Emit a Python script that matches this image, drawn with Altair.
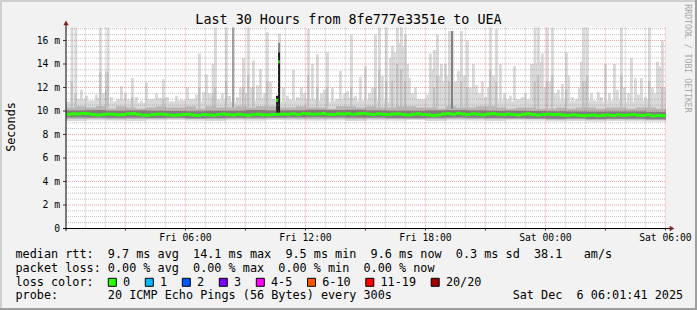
import altair as alt
import pandas as pd

MONO = "DejaVu Sans Mono"

# ---------------- data ----------------
title_text = "Last 30 Hours from 8fe777e3351e to UEA"
y_title = "Seconds"
watermark = "RRDTOOL / TOBI OETIKER"

start_hour = 101 / 3600.0          # Fri 00:01:41
span_hours = 30.0

x_label_hours = [6, 12, 18, 24, 30]
x_label_text = ["Fri 06:00", "Fri 12:00", "Fri 18:00", "Sat 00:00", "Sat 06:00"]
y_label_values = [0, 2, 4, 6, 8, 10, 12, 14, 16]
y_label_text = ["0\u00a0", "2 m", "4 m", "6 m", "8 m", "10 m", "12 m", "14 m", "16 m"]
x_minor_hours = list(range(1, 31))
x_major_hours = [3, 6, 9, 12, 15, 18, 21, 24, 27, 30]
y_minor_values = [0.5 * i for i in range(1, 35)]
y_major_values = [2, 4, 6, 8, 10, 12, 14, 16]

# median rtt (ms), one value every 15 minutes
median_ms = [
    9.72, 9.76, 9.74, 9.80, 9.76, 9.70, 9.66, 9.70,
    9.74, 9.72, 9.68, 9.70, 9.76, 9.78, 9.72, 9.66,
    9.64, 9.70, 9.74, 9.72, 9.68, 9.64, 9.66, 9.70,
    9.72, 9.66, 9.62, 9.70, 9.68, 9.64, 9.70, 9.74,
    9.70, 9.66, 9.72, 9.68, 9.64, 9.70, 9.72, 9.68,
    9.66, 9.70, 9.72, 9.74, 9.72, 9.76, 9.70, 9.78,
    9.76, 9.72, 9.74, 9.78, 9.72, 9.70, 9.76, 9.74,
    9.78, 9.72, 9.76, 9.80, 9.74, 9.70, 9.76, 9.72,
    9.70, 9.74, 9.76, 9.70, 9.66, 9.72, 9.76, 9.70,
    9.68, 9.62, 9.66, 9.74, 9.78, 9.72, 9.80, 9.74,
    9.70, 9.76, 9.72, 9.68, 9.74, 9.78, 9.72, 9.70,
    9.74, 9.70, 9.66, 9.72, 9.76, 9.70, 9.66, 9.70,
    9.74, 9.70, 9.72, 9.66, 9.62, 9.68, 9.64, 9.60,
    9.62, 9.66, 9.60, 9.64, 9.66, 9.62, 9.68, 9.64,
    9.66, 9.70, 9.64, 9.62, 9.68, 9.58, 9.62, 9.60,
]
# high medians around Fri 10:35
median_spike_hours = [10.53, 10.63]
median_spike_ms = [10.9, 14.2]

# smoke band (half-hour resolution for tops, hourly for bottoms)
band_light_top = [
    10.8, 11.0, 10.9, 11.1, 10.8, 11.0, 10.9, 10.7, 11.0, 11.1,
    10.8, 10.9, 11.0, 10.8, 11.1, 10.9, 10.8, 11.0, 10.9, 11.1,
    11.0, 10.8, 10.9, 11.1, 11.0, 10.9, 10.8, 11.0, 11.1, 10.9,
    11.0, 10.9, 10.8, 11.0, 11.1, 11.0, 10.9, 10.8, 11.0, 10.9,
    10.8, 11.0, 11.1, 10.9, 10.8, 11.0, 10.9, 10.8, 10.7, 10.9,
    10.8, 11.0, 10.9, 10.8, 10.9, 11.0, 10.8, 10.9, 11.0, 10.8,
]
band_mid_top = [
    10.3, 10.4, 10.3, 10.4, 10.2, 10.4, 10.3, 10.2, 10.3, 10.4,
    10.3, 10.3, 10.4, 10.2, 10.4, 10.3, 10.3, 10.4, 10.3, 10.4,
    10.4, 10.3, 10.3, 10.4, 10.3, 10.3, 10.2, 10.4, 10.4, 10.3,
    10.4, 10.3, 10.3, 10.4, 10.4, 10.3, 10.3, 10.2, 10.4, 10.3,
    10.3, 10.4, 10.4, 10.3, 10.2, 10.3, 10.3, 10.2, 10.2, 10.3,
    10.2, 10.3, 10.3, 10.2, 10.3, 10.3, 10.2, 10.3, 10.3, 10.2,
]
band_light_bottom = [
    9.15, 9.20, 9.18, 9.15, 9.20, 9.22, 9.18, 9.15, 9.20, 9.18,
    9.22, 9.20, 9.18, 9.20, 9.15, 9.20, 9.18, 9.22, 9.15, 9.20,
    9.18, 9.15, 9.20, 9.18, 9.12, 9.15, 9.10, 9.15, 9.12, 9.10,
]
band_mid_bottom = [
    9.32, 9.34, 9.30, 9.32, 9.34, 9.36, 9.32, 9.30, 9.34, 9.32,
    9.36, 9.34, 9.32, 9.34, 9.30, 9.34, 9.32, 9.36, 9.30, 9.34,
    9.32, 9.30, 9.34, 9.32, 9.26, 9.29, 9.24, 9.28, 9.26, 9.24,
]
band_dark_top = [
    10.05, 10.08, 10.02, 10.05, 10.02, 10.00, 9.98, 10.02, 10.02, 10.08,
    10.05, 10.06, 10.10, 10.08, 10.10, 10.05, 10.02, 10.02, 10.05, 10.08,
    10.05, 10.02, 10.02, 10.00, 9.98, 9.96, 9.94, 9.96, 9.96, 9.92,
]
band_dark_bottom = [
    9.46, 9.44, 9.42, 9.44, 9.40, 9.42, 9.38, 9.40, 9.42, 9.44,
    9.44, 9.46, 9.48, 9.46, 9.44, 9.44, 9.40, 9.38, 9.42, 9.44,
    9.42, 9.40, 9.38, 9.36, 9.34, 9.36, 9.32, 9.34, 9.34, 9.30,
]

# light smoke spikes (max ping), hour since Fri 00:00 and top in ms
spike_hours = [
    0.26, 0.45, 0.58, 0.73, 0.98, 1.23, 1.48, 1.68, 1.83, 1.98, 2.06, 2.23, 2.48, 2.73,
    2.93, 3.08, 3.28, 3.48, 3.73, 3.98, 4.23, 4.48, 4.63, 4.83, 5.03, 5.23, 5.48, 5.73,
    6.03, 6.23, 6.48, 6.63, 6.83, 6.98, 7.13, 7.31, 7.43, 7.59, 7.78, 7.98, 8.13, 8.33,
    8.53, 8.68, 8.83, 8.98, 9.08, 9.23, 9.33, 9.53, 9.68, 9.88, 10.03, 10.18, 10.33, 10.63,
    10.83, 11.03, 11.18, 11.33, 11.53, 11.73, 11.88, 12.08, 12.28, 12.53, 12.73, 12.88,
    13.03, 13.28, 13.48, 13.68, 13.88, 14.03, 14.23, 14.43, 14.68, 14.93, 15.13, 15.28,
    15.43, 15.63, 15.78, 15.98, 16.18, 16.28, 16.38, 16.53, 16.63, 16.73, 16.83, 16.93,
    17.03, 17.13, 17.28, 17.43, 17.63, 17.83, 18.03, 18.18, 18.28, 18.38, 18.53, 18.63,
    18.73, 18.83, 18.93, 19.03, 19.13, 19.28, 19.43, 19.58, 19.73, 19.88, 20.03, 20.18,
    20.33, 20.48, 20.63, 20.78, 20.93, 21.08, 21.18, 21.33, 21.48, 21.68, 21.88, 22.03,
    22.18, 22.38, 22.58, 22.78, 22.93, 23.08, 23.23, 23.33, 23.41, 23.48, 23.58, 23.68,
    23.78, 23.88, 24.03, 24.13, 24.28, 24.43, 24.58, 24.78, 24.98, 25.08, 25.28, 25.48,
    25.63, 25.73, 25.83, 25.93, 26.03, 26.23, 26.43, 26.58, 26.73, 26.93, 27.13, 27.38,
    27.53, 27.73, 27.88, 28.08, 28.23, 28.43, 28.58, 28.73, 28.93, 29.13, 29.28, 29.43,
    29.53, 29.63, 29.78, 29.88,
]
spike_tops = [
    17.5, 17.5, 11.0, 11.8, 11.3, 10.9, 11.4, 17.5, 11.5, 13.4, 17.5, 11.2, 10.8, 12.1,
    11.5, 11.0, 12.8, 11.2, 10.9, 12.4, 11.0, 11.5, 11.0, 12.7, 11.2, 10.8, 11.3, 11.0,
    12.0, 11.0, 11.4, 14.9, 11.6, 13.1, 11.5, 14.0, 17.5, 11.0, 11.5, 17.5, 11.3, 17.5,
    11.2, 12.0, 14.5, 11.5, 17.5, 12.0, 14.3, 12.2, 13.6, 11.5, 16.7, 12.5, 11.0, 16.6,
    12.0, 11.3, 11.0, 13.5, 11.2, 12.0, 11.5, 17.0, 14.0, 14.8, 11.5, 11.8,
    15.0, 12.0, 11.0, 13.4, 11.5, 11.7, 16.5, 11.3, 12.9, 13.8, 11.5, 12.0,
    16.5, 17.5, 13.0, 17.5, 14.5, 15.5, 15.0, 17.5, 15.8, 17.5, 15.5, 16.5,
    14.0, 12.8, 11.5, 12.0, 11.0, 10.9, 11.4, 14.9, 13.5, 15.2, 16.5, 13.0,
    14.0, 12.5, 14.0, 13.0, 16.8, 16.8, 12.5, 13.4, 16.8, 13.0, 16.0, 12.0,
    14.0, 12.2, 11.5, 12.5, 11.2, 12.0, 17.5, 13.0, 17.0, 14.0, 11.5, 11.0,
    11.3, 13.8, 10.8, 11.2, 11.5, 11.0, 14.0, 14.0, 17.5, 14.0, 17.5, 14.2,
    14.9, 12.0, 17.5, 12.5, 17.5, 11.5, 11.8, 12.3, 15.0, 13.0, 11.2, 11.0,
    12.0, 14.2, 17.5, 12.5, 17.5, 11.5, 10.8, 11.6, 11.2, 14.0, 11.5, 14.0,
    11.8, 17.5, 12.0, 11.5, 14.5, 12.8, 11.4, 12.8, 11.2, 17.5, 12.0, 11.5,
    14.2, 13.8, 16.0, 12.0,
]
# second smoke shade inside the larger spikes
mid_spike_hours = [
    0.26, 0.45, 1.68, 1.98, 2.06, 3.28, 4.83, 6.63, 7.31, 7.43, 7.98, 8.83, 9.08, 9.33,
    10.03, 12.08, 12.53, 13.03, 14.23, 15.43, 15.63, 15.98, 16.28, 16.53, 16.73, 16.93,
    18.38, 18.53, 19.13, 19.73, 20.03, 21.18, 21.48, 23.41, 23.58, 24.03, 24.28, 24.98,
    25.83, 26.03, 27.73, 29.13, 29.78,
]
mid_spike_tops = [
    12.5, 11.5, 13.3, 11.8, 13.3, 11.2, 11.0, 12.0, 11.5, 12.0, 12.5, 12.0, 13.0, 12.0,
    12.5, 13.0, 12.0, 12.0, 12.0, 12.0, 13.5, 12.5, 12.5, 14.0, 13.5, 12.5,
    12.0, 13.0, 12.5, 12.5, 12.0, 13.5, 12.5, 12.5, 13.0, 12.5, 13.0, 11.8,
    12.5, 13.0, 13.0, 12.5, 12.0,
]
# dark streaks (many pings high)
dark_hours = [8.33, 10.53, 10.63, 10.63, 19.28]
dark_bottom = [10.3, 9.85, 15.0, 9.85, 10.2]
dark_top = [17.2, 11.3, 15.8, 15.0, 16.8]
dark_color = ["#a0a0a0", "#222222", "#8a8a8a", "#1a1a1a", "#808080"]

legend_lines = [
    "median rtt:  9.7 ms avg  14.1 ms max  9.5 ms min  9.6 ms now  0.3 ms sd  38.1   am/s",
    "packet loss: 0.00 % avg  0.00 % max  0.00 % min  0.00 % now",
    "loss color:",
    "probe:       20 ICMP Echo Pings (56 Bytes) every 300s".ljust(70) + "Sat Dec  6 06:01:41 2025",
]
loss_labels = ["0", "1", "2", "3", "4-5", "6-10", "11-19", "20/20"]
loss_colors = ["#26ff00", "#00b8ff", "#0059ff", "#7e00ff", "#ff00ff", "#ff5500", "#ff0000", "#a10000"]

# ---------------- layout ----------------
W, H = 600, 201
PL, PT = 66, 27.5
TOTAL_W, TOTAL_H = 697, 310
Y_MAX = 17.106
STEP5 = 5 / 60
CH = 7.1  # monospace advance at legend size

xs = alt.Scale(domain=[start_hour, start_hour + span_hours], nice=False, zero=False)
ys = alt.Scale(domain=[0, Y_MAX], nice=False, zero=False)


def X(field, t="Q"):
    return alt.X(f"{field}:{t}", scale=xs, axis=None)


def Y(field, t="Q"):
    return alt.Y(f"{field}:{t}", scale=ys, axis=None)


def nb(s):
    return s.replace(" ", "\u00a0")


layers = []

# outer 3D frame
frame = pd.DataFrame({
    "x": [-PL, -PL, -PL, TOTAL_W - 2 - PL],
    "x2": [TOTAL_W - PL, -PL + 2, TOTAL_W - PL, TOTAL_W - PL],
    "y": [-PT, -PT, TOTAL_H - 2 - PT, -PT],
    "y2": [-PT + 2, TOTAL_H - PT, TOTAL_H - PT, TOTAL_H - PT],
    "c": ["#CFCFCF", "#CFCFCF", "#9E9E9E", "#9E9E9E"],
})
layers.append(alt.Chart(frame).mark_rect().encode(
    x=alt.X("x:Q", scale=None, axis=None), x2="x2:Q",
    y=alt.Y("y:Q", scale=None, axis=None), y2="y2:Q",
    color=alt.Color("c:N", scale=None)))

half = pd.DataFrame({"h": [start_hour + 0.5 * i for i in range(60)],
                     "light_top": band_light_top, "mid_top": band_mid_top})
hourly = pd.DataFrame({"h": [start_hour + i for i in range(30)],
                       "light_bot": band_light_bottom, "mid_bot": band_mid_bottom,
                       "dark_top": band_dark_top, "dark_bot": band_dark_bottom})

LIGHT = "#d9d9d9"
layers.append(alt.Chart(half).transform_calculate(h2="datum.h + 0.5").mark_rect(color=LIGHT).encode(
    x=X("h"), x2="h2:Q", y=Y("light_top"), y2=alt.datum(9.6)))
layers.append(alt.Chart(hourly).transform_calculate(h2="datum.h + 1").mark_rect(color=LIGHT).encode(
    x=X("h"), x2="h2:Q", y=Y("light_bot"), y2=alt.datum(9.8)))

spikes = pd.DataFrame({"h": spike_hours, "top": spike_tops})
layers.append(alt.Chart(spikes).transform_calculate(h2="datum.h + 0.14").mark_rect(
    color=LIGHT, clip=True).encode(x=X("h"), x2="h2:Q", y=Y("top"), y2=alt.datum(9.8)))
mids = pd.DataFrame({"h": mid_spike_hours, "top": mid_spike_tops})
layers.append(alt.Chart(mids).transform_calculate(h2="datum.h + 0.11").mark_rect(
    color="#c2c2c2", clip=True).encode(x=X("h"), x2="h2:Q", y=Y("top"), y2=alt.datum(9.8)))

# inner smoke shades
layers.append(alt.Chart(half).transform_calculate(h2="datum.h + 0.5").mark_rect(color="#b7b7b7").encode(
    x=X("h"), x2="h2:Q", y=Y("mid_top"), y2=alt.datum(9.7)))
layers.append(alt.Chart(hourly).transform_calculate(h2="datum.h + 1").mark_rect(color="#b7b7b7").encode(
    x=X("h"), x2="h2:Q", y=Y("mid_bot"), y2=alt.datum(9.7)))
layers.append(alt.Chart(hourly).transform_calculate(h2="datum.h + 1").mark_rect(color="#7e7e7e").encode(
    x=X("h"), x2="h2:Q", y=Y("dark_bot"), y2=alt.Y2("dark_top:Q")))

dark = pd.DataFrame({"h": dark_hours, "lo": dark_bottom, "hi": dark_top, "c": dark_color})
layers.append(alt.Chart(dark).transform_calculate(h2=f"datum.h + {STEP5 * 1.2}").mark_rect(clip=True).encode(
    x=X("h"), x2="h2:Q", y=Y("lo"), y2="hi:Q", color=alt.Color("c:N", scale=None)))

# grid
grid_minor_y = pd.DataFrame({"v": [v for v in y_minor_values if v not in y_major_values]})
grid_major_y = pd.DataFrame({"v": y_major_values})
grid_minor_x = pd.DataFrame({"h": [h for h in x_minor_hours if h not in x_major_hours]})
grid_major_x = pd.DataFrame({"h": x_major_hours})
minor_style = dict(color="#8f8f8f", opacity=0.55, strokeDash=[1, 1], strokeWidth=1)
major_style = dict(color="#de4f4f", opacity=0.5, strokeDash=[1, 1], strokeWidth=1)
layers.append(alt.Chart(grid_minor_y).mark_rule(**minor_style).encode(
    y=Y("v"), x=alt.value(0), x2=alt.value(W)))
layers.append(alt.Chart(grid_minor_x).mark_rule(**minor_style).encode(
    x=X("h"), y=alt.value(0), y2=alt.value(H)))
layers.append(alt.Chart(grid_major_y).mark_rule(**major_style).encode(
    y=Y("v"), x=alt.value(0), x2=alt.value(W)))
layers.append(alt.Chart(grid_major_x).mark_rule(**major_style).encode(
    x=X("h"), y=alt.value(0), y2=alt.value(H)))

# median line (loss colour 0)
med = pd.DataFrame({"h": [start_hour + 0.25 * i for i in range(len(median_ms))], "m": median_ms})
layers.append(alt.Chart(med).transform_calculate(h2="datum.h + 0.25").mark_rule(
    color=loss_colors[0], strokeWidth=3).encode(x=X("h"), x2="h2:Q", y=Y("m")))
med_sp = pd.DataFrame({"h": median_spike_hours, "m": median_spike_ms})
layers.append(alt.Chart(med_sp).transform_calculate(h2=f"datum.h + {STEP5}").mark_rule(
    color=loss_colors[0], strokeWidth=3).encode(x=X("h"), x2="h2:Q", y=Y("m")))

# axes
axis_df = pd.DataFrame({"h": [start_hour], "v": [0.0]})
layers.append(alt.Chart(axis_df).transform_calculate(
    h1="datum.h - 0.15", h2=f"datum.h + {span_hours + 0.2}").mark_rule(color="#000000").encode(
    x=X("h1"), x2="h2:Q", y=Y("v")))
layers.append(alt.Chart(axis_df).transform_calculate(
    v1="-0.2", v2="17.4").mark_rule(color="#000000").encode(
    x=X("h"), y=Y("v1"), y2="v2:Q"))
layers.append(alt.Chart(axis_df).transform_calculate(v2="17.5").mark_point(
    shape="triangle-up", filled=True, color="#802020", size=28, opacity=1).encode(x=X("h"), y=Y("v2")))
layers.append(alt.Chart(axis_df).transform_calculate(h2=f"datum.h + {span_hours + 0.3}").mark_point(
    shape="triangle-right", filled=True, color="#802020", size=28, opacity=1).encode(x=X("h2"), y=Y("v")))
# ticks
layers.append(alt.Chart(pd.DataFrame({"v": y_label_values[1:]})).mark_rule(color="#333333").encode(
    y=Y("v"), x=alt.value(-3), x2=alt.value(0)))
layers.append(alt.Chart(grid_major_x).mark_rule(color="#333333").encode(
    x=X("h"), y=alt.value(H), y2=alt.value(H + 2)))

# axis labels
layers.append(alt.Chart(pd.DataFrame({"v": y_label_values, "t": y_label_text})).mark_text(
    font=MONO, fontSize=9.7, align="right", baseline="alphabetic", dy=3.3, color="#000000").encode(
    y=Y("v"), x=alt.value(-6), text="t:N"))
layers.append(alt.Chart(pd.DataFrame({"h": x_label_hours, "t": x_label_text})).mark_text(
    font=MONO, fontSize=9.7, align="center", baseline="alphabetic", color="#000000").encode(
    x=X("h"), y=alt.value(241 - PT), text="t:N"))


def px_text(df, **kw):
    return alt.Chart(df).mark_text(font=MONO, color="#000000", **kw).encode(
        x=alt.X("px:Q", scale=None, axis=None),
        y=alt.Y("py:Q", scale=None, axis=None),
        text="t:N")


layers.append(px_text(pd.DataFrame({"px": [348.5 - PL], "py": [24 - PT], "t": [title_text]}),
                      fontSize=13.4, align="center", baseline="alphabetic"))
layers.append(px_text(pd.DataFrame({"px": [14.5 - PL], "py": [127 - PT], "t": [y_title]}),
                      fontSize=11.8, align="center", baseline="alphabetic", angle=270))
wm = alt.Chart(pd.DataFrame({"px": [685 - PL], "py": [58.5 - PT], "t": [watermark]})).mark_text(
    font=MONO, fontSize=8.2, color="#a8a8a8", align="center", baseline="alphabetic", angle=90).encode(
    x=alt.X("px:Q", scale=None, axis=None), y=alt.Y("py:Q", scale=None, axis=None), text="t:N")
layers.append(wm)

base_lines = [258.3, 271.8, 285.6, 299.3]
leg = pd.DataFrame({"px": [15.5 - PL] * 4, "py": [b - PT for b in base_lines],
                    "t": [nb(s) for s in legend_lines]})
layers.append(px_text(leg, fontSize=11.8, align="left", baseline="alphabetic"))

# loss colour boxes
bx, rows = 108.3, []
for lab, col in zip(loss_labels, loss_colors):
    lx = bx + 14.7
    rows.append({"x": bx - PL, "x2": bx + 8 - PL, "y": 278.3 - PT, "y2": 286.3 - PT,
                 "c": col, "lx": lx - PL, "ly": base_lines[2] - PT, "t": lab})
    bx = lx + len(lab) * CH + 15.2
boxes = pd.DataFrame(rows)
layers.append(alt.Chart(boxes).mark_rect(stroke="#000000", strokeWidth=1).encode(
    x=alt.X("x:Q", scale=None, axis=None), x2="x2:Q",
    y=alt.Y("y:Q", scale=None, axis=None), y2="y2:Q",
    color=alt.Color("c:N", scale=None)))
layers.append(alt.Chart(boxes).mark_text(font=MONO, fontSize=11.8, align="left",
                                         baseline="alphabetic", color="#000000").encode(
    x=alt.X("lx:Q", scale=None, axis=None), y=alt.Y("ly:Q", scale=None, axis=None), text="t:N"))

chart = alt.layer(*layers).properties(
    width=W, height=H,
    padding={"left": PL, "top": PT, "right": TOTAL_W - W - PL, "bottom": TOTAL_H - H - PT},
    autosize=alt.AutoSizeParams(type="none"),
    background="#F2F2F2",
).configure_view(stroke=None, fill="#ffffff")

chart.save("out.html", embed_options={"renderer": "svg", "actions": False})
